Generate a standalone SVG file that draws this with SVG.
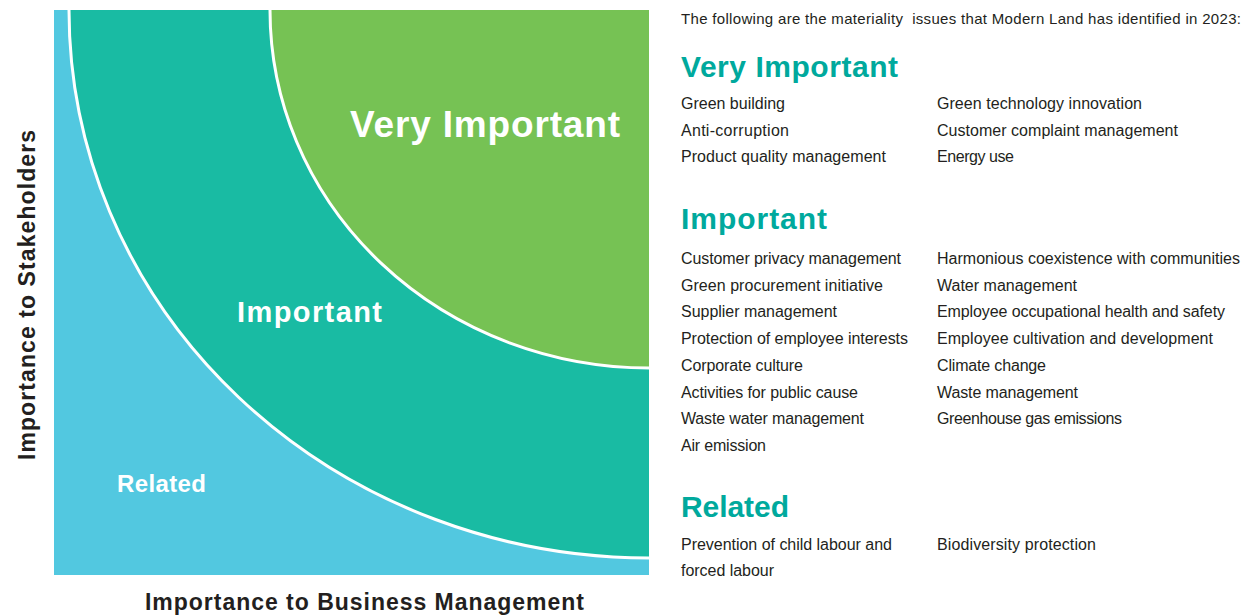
<svg xmlns="http://www.w3.org/2000/svg" width="1250" height="615" viewBox="0 0 1250 615">
<style>
  .zone-lbl { font-family: "Liberation Sans", Arial, sans-serif; font-weight: bold; fill: #ffffff; }
  .axis { font-family: "Liberation Sans", Arial, sans-serif; font-weight: bold; fill: #231f20; font-size: 23px; }
  .head { font-family: "Liberation Sans", Arial, sans-serif; font-weight: bold; fill: #00a99d; font-size: 30px; }
  .item { font-family: "Liberation Sans", Arial, sans-serif; fill: #231f20; font-size: 16px; }
  .intro { font-family: "Liberation Sans", Arial, sans-serif; fill: #231f20; font-size: 15px; }
  .sep { fill: none; stroke: #ffffff; stroke-width: 3; }
</style>
<rect width="1250" height="615" fill="#ffffff"/>

<g id="chart">
  <g id="zone-related">
    <rect x="54" y="10" width="595" height="565" fill="#52c8e0"/>
    <text class="zone-lbl" x="117" y="492" font-size="24" textLength="89">Related</text>
  </g>
  <g id="zone-important">
    <path d="M69,10 A580,548 0 0 0 649,558 L649,10 Z" fill="#19bba3"/>
    <path d="M69,10 A580,548 0 0 0 649,558" class="sep"/>
    <text class="zone-lbl" x="237" y="322" font-size="29" textLength="145">Important</text>
  </g>
  <g id="zone-very-important">
    <path d="M270,10 A379,358 0 0 0 649,368 L649,10 Z" fill="#76c254"/>
    <path d="M270,10 A379,358 0 0 0 649,368" class="sep"/>
    <text class="zone-lbl" x="350" y="137" font-size="37" textLength="270">Very Important</text>
  </g>
  <rect x="54" y="7" width="600" height="3" fill="#ffffff"/>
  <rect x="649" y="7" width="4" height="571" fill="#ffffff"/>
</g>

<g id="axes">
  <text class="axis" transform="translate(35,460) rotate(-90)" x="0" y="0" textLength="330">Importance to Stakeholders</text>
  <text class="axis" x="145" y="610" textLength="439">Importance to Business Management</text>
</g>

<g id="intro">
  <text class="intro" x="681" y="24" textLength="560" xml:space="preserve">The following are the materiality  issues that Modern Land has identified in 2023:</text>
</g>

<g id="list-very-important">
  <text class="head" x="681" y="77" textLength="217">Very Important</text>
  <text class="item" x="681" y="109" textLength="104">Green building</text>
  <text class="item" x="681" y="136" textLength="108">Anti-corruption</text>
  <text class="item" x="681" y="162" textLength="205">Product quality management</text>
  <text class="item" x="937" y="109" textLength="205">Green technology innovation</text>
  <text class="item" x="937" y="136" textLength="241">Customer complaint management</text>
  <text class="item" x="937" y="162" textLength="77">Energy use</text>
</g>

<g id="list-important">
  <text class="head" x="681" y="229" textLength="146">Important</text>
  <text class="item" x="681" y="264" textLength="220">Customer privacy management</text>
  <text class="item" x="681" y="291" textLength="202">Green procurement initiative</text>
  <text class="item" x="681" y="317" textLength="156">Supplier management</text>
  <text class="item" x="681" y="344" textLength="227">Protection of employee interests</text>
  <text class="item" x="681" y="371" textLength="122">Corporate culture</text>
  <text class="item" x="681" y="398" textLength="177">Activities for public cause</text>
  <text class="item" x="681" y="424" textLength="183">Waste water management</text>
  <text class="item" x="681" y="451" textLength="85">Air emission</text>
  <text class="item" x="937" y="264" textLength="303">Harmonious coexistence with communities</text>
  <text class="item" x="937" y="291" textLength="140">Water management</text>
  <text class="item" x="937" y="317" textLength="288">Employee occupational health and safety</text>
  <text class="item" x="937" y="344" textLength="276">Employee cultivation and development</text>
  <text class="item" x="937" y="371" textLength="109">Climate change</text>
  <text class="item" x="937" y="398" textLength="141">Waste management</text>
  <text class="item" x="937" y="424" textLength="185">Greenhouse gas emissions</text>
</g>

<g id="list-related">
  <text class="head" x="681" y="517" textLength="108">Related</text>
  <text class="item" x="681" y="550" textLength="211">Prevention of child labour and</text>
  <text class="item" x="681" y="576" textLength="93">forced labour</text>
  <text class="item" x="937" y="550" textLength="159">Biodiversity protection</text>
</g>
</svg>
